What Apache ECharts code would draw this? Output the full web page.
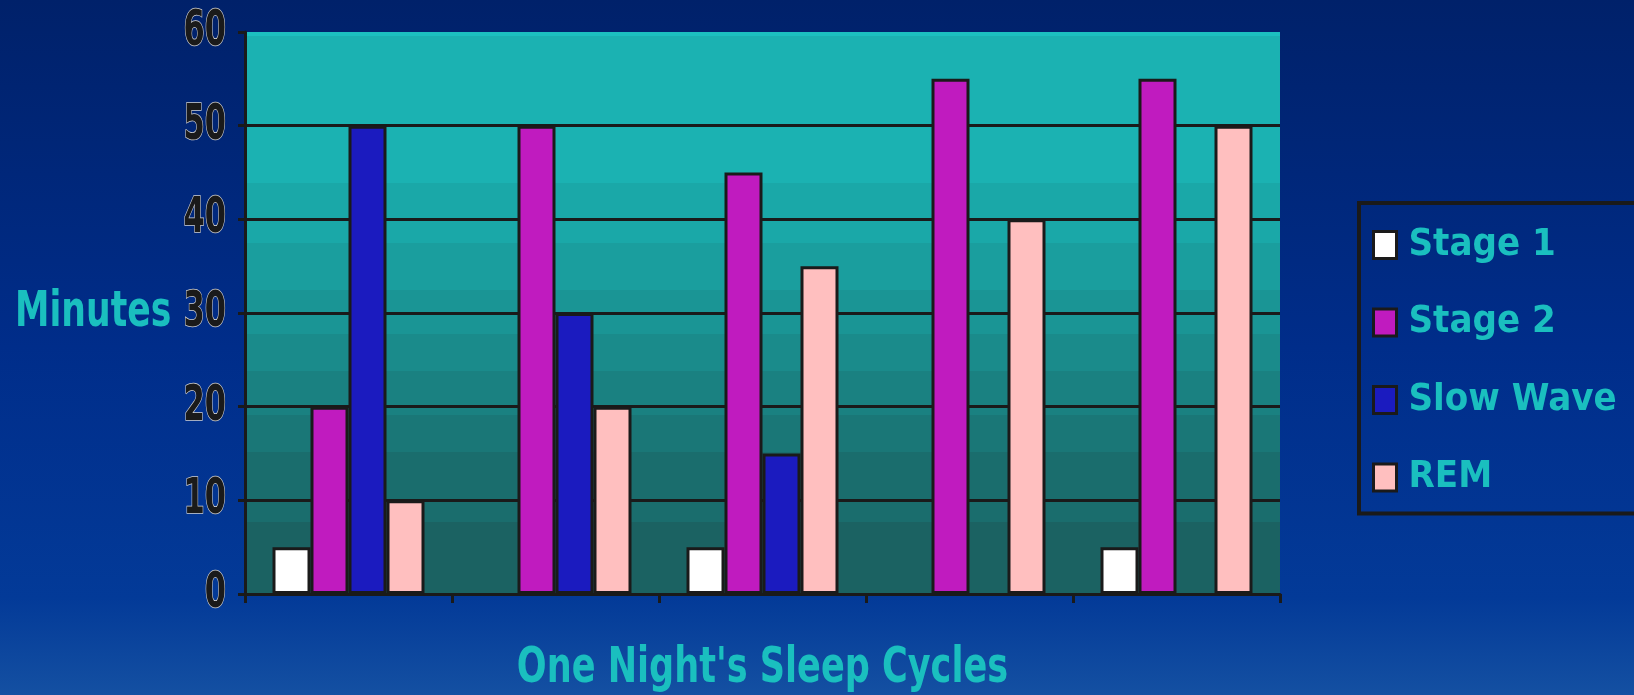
<!DOCTYPE html>
<html>
<head>
<meta charset="utf-8">
<script src="https://cdn.jsdelivr.net/npm/echarts@6/dist/echarts.min.js"></script>
<style>
  html, body { margin: 0; padding: 0; width: 1634px; height: 695px; overflow: hidden; }
  #chart { width: 1634px; height: 695px; }
</style>
</head>
<body>
<div id="chart"></div>
<script>
// ---- data ----
const categories = ['Cycle 1', 'Cycle 2', 'Cycle 3', 'Cycle 4', 'Cycle 5'];
const stage1    = [5, null, 5, null, 5];
const stage2    = [20, 50, 45, 55, 55];
const slowWave  = [50, 30, 15, null, null];
const rem       = [10, 20, 35, 40, 50];
const seriesNames = ['Stage 1', 'Stage 2', 'Slow Wave', 'REM'];
const yTicks = [0, 10, 20, 30, 40, 50, 60];
const xTitle = "One Night's Sleep Cycles";
const yTitle = 'Minutes';

// ---- style ----
const FONT = '"DejaVu Sans Condensed", "DejaVu Sans", sans-serif';
const TEAL = '#1abfbf';
const INK = '#1a1a1a';
const colors = ['#ffffff', '#c01bbf', '#1b1bbf', '#ffbfbf'];
const GRID = { left: 245, top: 32, width: 1035, height: 562 };

function stepGradient(bands) {
  const stops = [];
  bands.forEach(b => {
    stops.push({ offset: b[0], color: b[2] });
    stops.push({ offset: b[1], color: b[2] });
  });
  return new echarts.graphic.LinearGradient(0, 0, 0, 1, stops);
}

const plotBg = stepGradient([
  [0.000, 0.007, '#1cc0c0'],
  [0.007, 0.268, '#1bb2b2'],
  [0.268, 0.375, '#1aa8a8'],
  [0.375, 0.459, '#1a9e9e'],
  [0.459, 0.537, '#1a9595'],
  [0.537, 0.603, '#1a8b8b'],
  [0.603, 0.681, '#1a8181'],
  [0.681, 0.747, '#1a7777'],
  [0.747, 0.872, '#1a6d6d'],
  [0.872, 1.000, '#1b6262']
]);

const pageBg = new echarts.graphic.LinearGradient(0, 0, 0, 1, [
  { offset: 0, color: '#00216a' },
  { offset: 0.5, color: '#002d8a' },
  { offset: 0.86, color: '#033a98' },
  { offset: 1, color: '#1450a2' }
]);

const seriesData = [stage1, stage2, slowWave, rem];

const chart = echarts.init(document.getElementById('chart'), null, { renderer: 'canvas' });
chart.setOption({
  backgroundColor: pageBg,
  animation: false,
  grid: {
    left: GRID.left, top: GRID.top, width: GRID.width, height: GRID.height,
    show: true, backgroundColor: plotBg, borderWidth: 0,
    containLabel: false
  },
  legend: {
    orient: 'vertical',
    left: 1359, top: 203,
    padding: [23, 120, 17, 13],
    borderColor: INK, borderWidth: 4,
    itemWidth: 23, itemHeight: 27,
    itemGap: 39.5,
    icon: 'rect',
    itemStyle: { borderColor: INK, borderWidth: 3 },
    textStyle: {
      color: TEAL, fontSize: 38, fontWeight: 'bold', fontFamily: FONT,
      lineHeight: 38, padding: [0, 0, 0, 7]
    },
    data: seriesNames
  },
  xAxis: {
    type: 'category',
    data: categories,
    axisLine: { show: true, lineStyle: { color: INK, width: 3 } },
    axisTick: { show: true, length: 9, lineStyle: { color: INK, width: 3 } },
    axisLabel: { show: false },
    splitLine: { show: false }
  },
  yAxis: {
    type: 'value',
    min: yTicks[0], max: yTicks[yTicks.length - 1], interval: yTicks[1] - yTicks[0],
    axisLine: { show: true, lineStyle: { color: INK, width: 3 } },
    axisTick: { show: true, length: 7, lineStyle: { color: INK, width: 3 } },
    axisLabel: { show: false },
    splitLine: {
      show: true,
      lineStyle: { width: 3, color: ['rgba(0,0,0,0)', INK, INK, INK, INK, INK, 'rgba(0,0,0,0)'] }
    }
  },
  series: seriesNames.map((name, i) => ({
    name: name,
    type: 'bar',
    data: seriesData[i],
    barWidth: 38,
    barGap: '0%',
    itemStyle: { color: colors[i], borderColor: INK, borderWidth: 3 }
  }))
});

// Narrow, tall texts (condensed look) placed from the library's own scale
const tickGraphics = yTicks.map(v => ({
  type: 'text',
  x: GRID.left - 19,
  y: chart.convertToPixel({ yAxisIndex: 0 }, v),
  scaleX: 0.68,
  z: 10,
  style: {
    text: String(v),
    font: 'bold 50px ' + FONT,
    fill: INK,
    stroke: '#d0d0d0',
    lineWidth: 1.5,
    textAlign: 'right', textVerticalAlign: 'middle',
    align: 'right', verticalAlign: 'middle'
  }
}));

chart.setOption({
  graphic: tickGraphics.concat([
    {
      type: 'text',
      x: 15, y: 313, scaleX: 0.77, z: 10,
      style: {
        text: yTitle, font: 'bold 50px ' + FONT, fill: TEAL,
        textAlign: 'left', textVerticalAlign: 'middle',
        align: 'left', verticalAlign: 'middle'
      }
    },
    {
      type: 'text',
      x: GRID.left + GRID.width / 2, y: 669, scaleX: 0.78, z: 10,
      style: {
        text: xTitle, font: 'bold 50px ' + FONT, fill: TEAL,
        textAlign: 'center', textVerticalAlign: 'middle',
        align: 'center', verticalAlign: 'middle'
      }
    }
  ])
});
</script>
</body>
</html>
